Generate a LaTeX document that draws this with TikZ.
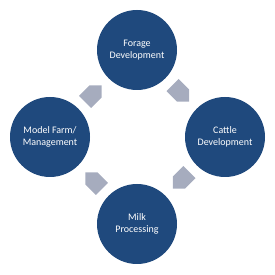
\documentclass[tikz,border=0pt]{standalone}
\usepackage{fontspec}
\setmainfont{Carlito}
\usetikzlibrary{calc}
\definecolor{circblue}{RGB}{31,73,125}
\definecolor{arrgray}{RGB}{166,172,190}
\begin{document}
\begin{tikzpicture}[x=1pt,y=1pt,
  stage/.style={circle,fill=circblue,minimum size=80pt,inner sep=0pt,text=white,
    align=center,font=\fontsize{10}{11.5}\selectfont},
  cyc/.style={fill=arrgray,draw=none}]
\useasboundingbox (0,0) rectangle (275,275);
\node[stage] (forage) at (137,225) {Forage\\Development};
\node[stage] (cattle) at (225,138) {Cattle\\Development};
\node[stage] (milk) at (137,51) {Milk\\Processing};
\node[stage] (model) at (50,138) {Model Farm/\\Management};
\coordinate (a1) at ($(forage)!0.5!(cattle)$);
\coordinate (a2) at ($(cattle)!0.5!(milk)$);
\coordinate (a3) at ($(milk)!0.5!(model)$);
\coordinate (a4) at ($(model)!0.5!(forage)$);
\foreach \c/\r in {a1/-45,a2/-135,a3/135,a4/45}{
  \begin{scope}[shift={(\c)},rotate=\r]
    \fill[cyc] (-12,-8.5) -- (3,-8.5) -- (11.5,0) -- (3,8.5) -- (-12,8.5) -- cycle;
  \end{scope}
}
\end{tikzpicture}
\end{document}
